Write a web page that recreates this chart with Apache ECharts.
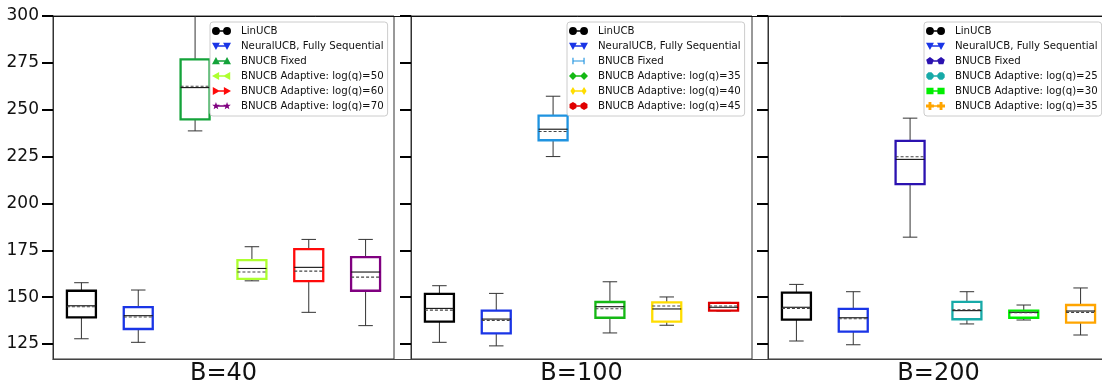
<!DOCTYPE html>
<html>
<head>
<meta charset="utf-8">
<script src="https://cdn.jsdelivr.net/npm/echarts@6/dist/echarts.min.js"></script>
<style>
html, body { margin: 0; padding: 0; background: #fff; }
#chart { width: 1102px; height: 381px; }
</style>
</head>
<body>
<div id="chart"></div>
<script>
// shared y axis ticks and panel titles
var yTicks = [125, 150, 175, 200, 225, 250, 275, 300];
var panelLabels = ['B=40', 'B=100', 'B=200'];

// B=40
var namesB40 = ['LinUCB', 'NeuralUCB, Fully Sequential', 'BNUCB Fixed',
    'BNUCB Adaptive: log(q)=50', 'BNUCB Adaptive: log(q)=60', 'BNUCB Adaptive: log(q)=70'];
// [min, q1, median, q3, max]
var boxB40 = [
    [127.8, 139.2, 145.4, 153.4, 157.7],
    [125.9, 133.0, 140.1, 144.7, 153.8],
    [238.7, 244.8, 261.8, 276.9, 320.0],
    [158.7, 159.8, 165.3, 169.8, 176.9],
    [141.9, 158.6, 165.9, 175.6, 180.8],
    [134.8, 153.4, 163.4, 171.4, 180.8]
];
var meanB40 = [144.9, 139.4, 262.5, 163.4, 163.9, 160.7];

// B=100
var namesB100 = ['LinUCB', 'NeuralUCB, Fully Sequential', 'BNUCB Fixed',
    'BNUCB Adaptive: log(q)=35', 'BNUCB Adaptive: log(q)=40', 'BNUCB Adaptive: log(q)=45'];
var boxB100 = [
    [125.9, 136.9, 144.0, 151.7, 156.1],
    [124.0, 130.7, 138.3, 142.8, 152.0],
    [225.0, 233.7, 239.6, 246.9, 257.2],
    [130.9, 139.0, 144.9, 147.4, 158.2],
    [135.0, 136.9, 143.7, 147.2, 150.1],
    [142.6, 142.8, 144.6, 146.9, 147.2]
];
var meanB100 = [143.1, 137.6, 238.4, 143.8, 145.3, 145.3];

// B=200
var namesB200 = ['LinUCB', 'NeuralUCB, Fully Sequential', 'BNUCB Fixed',
    'BNUCB Adaptive: log(q)=25', 'BNUCB Adaptive: log(q)=30', 'BNUCB Adaptive: log(q)=35'];
var boxB200 = [
    [126.6, 138.0, 144.6, 152.4, 156.8],
    [124.6, 131.6, 139.0, 143.7, 152.9],
    [182.0, 210.3, 223.5, 233.4, 245.5],
    [135.7, 138.2, 142.8, 147.5, 152.9],
    [137.8, 139.0, 141.9, 142.8, 145.8],
    [129.8, 136.4, 142.6, 145.8, 154.9]
];
var meanB200 = [144.0, 138.5, 224.9, 143.3, 141.7, 141.9];

// styles
var colorsB40 = ['#000000', '#1a35e6', '#14a33a', '#adff2f', '#ff0a0a', '#800080'];
var colorsB100 = ['#000000', '#1a35e6', '#1f93e0', '#14b814', '#ffdd00', '#e00000'];
var colorsB200 = ['#000000', '#1a35e6', '#2b12b0', '#17aaa8', '#00ee00', '#ffa500'];
var markersB40 = ['circle', 'triDown', 'triUp', 'triLeft', 'triRight', 'star'];
var markersB100 = ['circle', 'triDown', 'vline', 'diamond', 'thinDiamond', 'hexagon'];
var markersB200 = ['circle', 'triDown', 'pentagon', 'octagon', 'square', 'plus'];

var panels = [
    { names: namesB40, box: boxB40, mean: meanB40, colors: colorsB40, markers: markersB40, left: 53, legendLeft: 210 },
    { names: namesB100, box: boxB100, mean: meanB100, colors: colorsB100, markers: markersB100, left: 411, legendLeft: 567 },
    { names: namesB200, box: boxB200, mean: meanB200, colors: colorsB200, markers: markersB200, left: 768, legendLeft: 924 }
];
var gridTop = 16, gridHeight = 343, gridWidth = 341;

// ---- legend icons (marker - line - marker, like matplotlib) ----
function ngon(n, r, rot) {
    var pts = [];
    for (var i = 0; i < n; i++) {
        var a = rot + i * 2 * Math.PI / n;
        pts.push([r * Math.cos(a), r * Math.sin(a)]);
    }
    return pts;
}
function starPts() {
    var pts = [];
    for (var i = 0; i < 10; i++) {
        var a = -Math.PI / 2 + i * Math.PI / 5;
        var r = i % 2 ? 2.1 : 5;
        pts.push([r * Math.cos(a), r * Math.sin(a)]);
    }
    return pts;
}
function poly(cx, pts) {
    return 'M' + pts.map(function (p) {
        return (cx + p[0]).toFixed(2) + ',' + (5 + p[1]).toFixed(2);
    }).join(' L') + ' Z';
}
function marker(kind, cx) {
    switch (kind) {
        case 'circle': return 'M' + (cx - 5) + ',5 A5,5 0 1 1 ' + (cx + 5) + ',5 A5,5 0 1 1 ' + (cx - 5) + ',5 Z';
        case 'triDown': return poly(cx, [[-5, -4], [5, -4], [0, 5]]);
        case 'triUp': return poly(cx, [[0, -5], [5, 4], [-5, 4]]);
        case 'triLeft': return poly(cx, [[-5, 0], [4, -5], [4, 5]]);
        case 'triRight': return poly(cx, [[5, 0], [-4, 5], [-4, -5]]);
        case 'star': return poly(cx, starPts());
        case 'vline': return poly(cx, [[-0.7, -4], [0.7, -4], [0.7, 4], [-0.7, 4]]);
        case 'diamond': return poly(cx, [[0, -5], [5, 0], [0, 5], [-5, 0]]);
        case 'thinDiamond': return poly(cx, [[0, -5], [3.2, 0], [0, 5], [-3.2, 0]]);
        case 'hexagon': return poly(cx, ngon(6, 5, -Math.PI / 2));
        case 'pentagon': return poly(cx, ngon(5, 5, -Math.PI / 2));
        case 'octagon': return poly(cx, ngon(8, 5, -Math.PI / 8));
        case 'square': return poly(cx, [[-4.5, -4], [4.5, -4], [4.5, 4], [-4.5, 4]]);
        case 'plus': return poly(cx, [[-1.8, -5], [1.8, -5], [1.8, -1.8], [5, -1.8], [5, 1.8], [1.8, 1.8],
            [1.8, 5], [-1.8, 5], [-1.8, 1.8], [-5, 1.8], [-5, -1.8], [-1.8, -1.8]]);
    }
}
function legendIcon(kind) {
    var bar = kind === 'vline' ? 'M5,4.4 L19,4.4 L19,5.6 L5,5.6 Z' : 'M5,4 L19,4 L19,6 L5,6 Z';
    return 'path://M0,0 L0,0 M24,10 L24,10 ' + marker(kind, 5) + ' ' + bar + ' ' + marker(kind, 19);
}

// ---- one box: whiskers, caps, box, median, mean ----
function renderBox(params, api) {
    var x = api.value(0);
    var lo = api.coord([x, api.value(1)]);
    var q1 = api.coord([x, api.value(2)]);
    var md = api.coord([x, api.value(3)]);
    var q3 = api.coord([x, api.value(4)]);
    var hi = api.coord([x, api.value(5)]);
    var mn = api.coord([x, api.value(6)]);
    var bw = api.size([1, 0])[0] * 0.51;
    var cx = lo[0];
    var thin = { stroke: '#333', lineWidth: 1 };
    return {
        type: 'group',
        children: [
            { type: 'line', shape: { x1: cx, y1: q3[1], x2: cx, y2: hi[1] }, style: thin },
            { type: 'line', shape: { x1: cx, y1: q1[1], x2: cx, y2: lo[1] }, style: thin },
            { type: 'line', shape: { x1: cx - bw / 4, y1: hi[1], x2: cx + bw / 4, y2: hi[1] }, style: thin },
            { type: 'line', shape: { x1: cx - bw / 4, y1: lo[1], x2: cx + bw / 4, y2: lo[1] }, style: thin },
            { type: 'rect', shape: { x: cx - bw / 2, y: q3[1], width: bw, height: q1[1] - q3[1] },
              style: { fill: 'none', stroke: api.visual('color'), lineWidth: 2.3 } },
            { type: 'line', shape: { x1: cx - bw / 2, y1: md[1], x2: cx + bw / 2, y2: md[1] },
              style: { stroke: '#111', lineWidth: 1.1 } },
            { type: 'line', shape: { x1: cx - bw / 2, y1: mn[1], x2: cx + bw / 2, y2: mn[1] },
              style: { stroke: '#444', lineWidth: 1.1, lineDash: [3, 2] } }
        ]
    };
}

var grid = [], xAxis = [], yAxis = [], legend = [], series = [];
panels.forEach(function (p, i) {
    grid.push({ left: p.left, top: gridTop, width: gridWidth, height: gridHeight,
        containLabel: false, outerBoundsMode: 'none',
        show: true, borderColor: '#333', borderWidth: 1 });
    xAxis.push({
        gridIndex: i, type: 'category', data: p.names, boundaryGap: true,
        axisLine: { show: true, onZero: false, lineStyle: { color: '#444' } },
        axisTick: { show: false }, axisLabel: { show: false }, splitLine: { show: false },
        name: panelLabels[i], nameLocation: 'middle', nameGap: 3,
        nameTextStyle: { fontSize: 24, color: '#111', fontFamily: 'DejaVu Sans' }
    });
    yAxis.push({
        gridIndex: i, type: 'value', min: 117, max: 300,
        axisLine: { show: true, lineStyle: { color: '#333', width: 1 } },
        axisTick: { show: true, customValues: yTicks, length: 11, lineStyle: { color: '#000', width: 2 } },
        axisLabel: { show: i === 0, customValues: yTicks, margin: 14, fontSize: 17, color: '#111',
            fontFamily: 'DejaVu Sans' },
        splitLine: { show: false }
    });
    legend.push({
        orient: 'vertical', left: p.legendLeft, top: 22,
        padding: [3, 4, 4, 2],
        itemWidth: 19, itemHeight: 8, itemGap: 3,
        backgroundColor: '#fff', borderColor: '#cccccc', borderWidth: 1, borderRadius: 3,
        selectedMode: false,
        itemStyle: { borderWidth: 0 },
        textStyle: { fontFamily: 'DejaVu Sans', fontSize: 10.2, color: '#111', lineHeight: 12,
            padding: [0, 0, 0, 5] },
        data: p.names.map(function (n, j) {
            return { name: n, icon: legendIcon(p.markers[j]), itemStyle: { color: p.colors[j] } };
        })
    });
    p.names.forEach(function (n, j) {
        series.push({
            type: 'custom', name: n, xAxisIndex: i, yAxisIndex: i, clip: true,
            itemStyle: { color: p.colors[j] },
            renderItem: renderBox,
            encode: { x: 0, y: [1, 2, 3, 4, 5, 6] },
            data: [[j].concat(p.box[j], [p.mean[j]])]
        });
    });
});

// frame grid: continuous top and bottom lines across the panel gaps
grid.push({ left: 53, top: gridTop, width: 1056, height: gridHeight, show: false,
    containLabel: false, outerBoundsMode: 'none' });
xAxis.push({ gridIndex: 3, type: 'value', min: 0, max: 1, position: 'bottom',
    axisLine: { show: true, onZero: false, lineStyle: { color: '#444' } },
    axisTick: { show: false }, axisLabel: { show: false }, splitLine: { show: false } });
xAxis.push({ gridIndex: 3, type: 'value', min: 0, max: 1, position: 'top',
    axisLine: { show: true, onZero: false, lineStyle: { color: '#111' } },
    axisTick: { show: false }, axisLabel: { show: false }, splitLine: { show: false } });
yAxis.push({ gridIndex: 3, type: 'value', min: 0, max: 1, show: false });

var chart = echarts.init(document.getElementById('chart'));
chart.setOption({
    animation: false,
    backgroundColor: '#fff',
    textStyle: { fontFamily: 'DejaVu Sans' },
    grid: grid,
    xAxis: xAxis,
    yAxis: yAxis,
    legend: legend,
    series: series
});
</script>
</body>
</html>
